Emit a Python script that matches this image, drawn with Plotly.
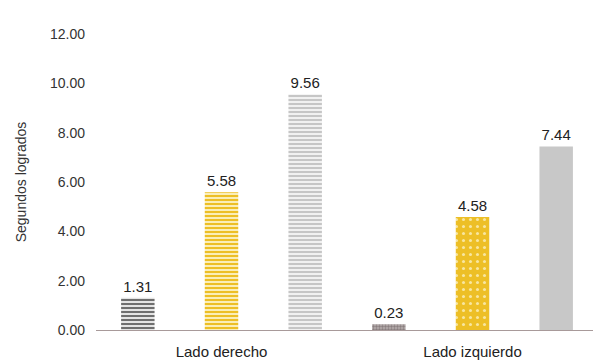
import plotly.graph_objects as go

categories = ["Lado derecho", "Lado izquierdo"]
serie_a = [1.31, 0.23]
serie_b = [5.58, 4.58]
serie_c = [9.56, 7.44]
y_ticks = [0, 2, 4, 6, 8, 10, 12]

fig = go.Figure()

fig.add_trace(go.Bar(
    x=categories, y=serie_a,
    text=[f"{v:.2f}" for v in serie_a], textposition="outside",
    marker=dict(
        color="#777777", line=dict(width=0),
        pattern=dict(shape=["-", "."], fgcolor=["#6f6f6f", "#8a7f80"],
                     bgcolor=["#e4e4e4", "#b9b0b0"], size=[4, 3], solidity=[0.5, 0.5],
                     fillmode="replace"),
    ),
))
fig.add_trace(go.Bar(
    x=categories, y=serie_b,
    text=[f"{v:.2f}" for v in serie_b], textposition="outside",
    marker=dict(
        color="#EDBF26", line=dict(width=0),
        pattern=dict(shape=["-", "."], fgcolor=["#EDBF26", "#F8E6A0"],
                     bgcolor=["#FAEEB8", "#EDBF26"], size=[4, 7], solidity=[0.5, 0.15],
                     fillmode="replace"),
    ),
))
fig.add_trace(go.Bar(
    x=categories, y=serie_c,
    text=[f"{v:.2f}" for v in serie_c], textposition="outside",
    marker=dict(
        color="#c8c8c8", line=dict(width=0),
        pattern=dict(shape=["-", ""], fgcolor=["#c6c6c6", "#c8c8c8"],
                     bgcolor=["#f1f1f1", "#c8c8c8"], size=[4, 4], solidity=[0.5, 0.5],
                     fillmode="replace"),
    ),
))

fig.update_traces(textfont=dict(family="Liberation Sans, Arial", size=15, color="#222222"),
                  cliponaxis=False)

fig.update_layout(
    width=594, height=361,
    margin=dict(l=96, r=1, t=34, b=31),
    paper_bgcolor="white", plot_bgcolor="white",
    barmode="group", bargap=0.0, bargroupgap=0.6,
    showlegend=False,
    font=dict(family="Liberation Sans, Arial", color="#333333"),
    xaxis=dict(
        range=[-0.5, 1.48], showline=True, linecolor="#a89a9a", linewidth=1,
        showgrid=False, ticks="", tickfont=dict(size=15, color="#222222"),
        ticklabelstandoff=8,
    ),
    yaxis=dict(
        range=[0, 12], tickvals=y_ticks, ticktext=[f"{v:.2f}" for v in y_ticks],
        showgrid=False, zeroline=False, showline=False, ticks="",
        tickfont=dict(size=14, color="#333333"), ticklabelstandoff=10,
        title=dict(text="Segundos logrados", font=dict(size=14, color="#333333"), standoff=20),
    ),
)

fig.write_html("out.html")
